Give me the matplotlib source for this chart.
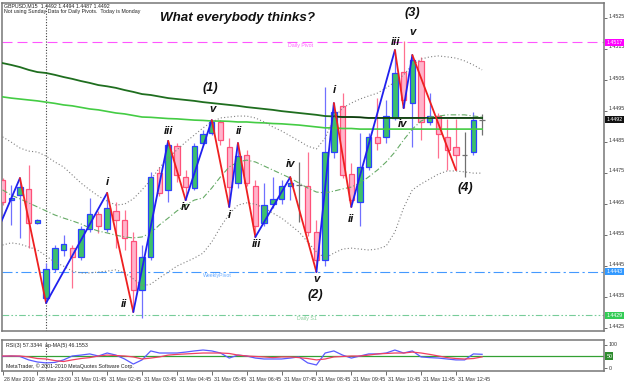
import matplotlib
matplotlib.use("Agg")
import matplotlib.pyplot as plt
import matplotlib.transforms as mtransforms
import numpy as np

# ---------------- data ----------------
open_ = [1.44726, 1.44661, 1.44677, 1.44697, 1.44587, 1.44345, 1.44439, 1.44500, 1.44506, 1.44477,
         1.44568, 1.44616, 1.44568, 1.44626, 1.44597, 1.44529, 1.44371, 1.44477, 1.44748, 1.44694,
         1.44835, 1.44735, 1.44700, 1.44845, 1.44877, 1.44913, 1.44832, 1.44716, 1.44806, 1.44706,
         1.44587, 1.44648, 1.44665, 1.44706, 1.44710, 1.44706, 1.44558, 1.44468, 1.44816, 1.44965,
         1.44745, 1.44655, 1.44768, 1.44865, 1.44865, 1.44926, 1.45074, 1.44974, 1.45110, 1.44913,
         1.44932, 1.44865, 1.44832, 1.44806, 1.44816, 1.44920]
high_ = [1.44732, 1.44710, 1.44732, 1.44774, 1.44600, 1.44458, 1.44516, 1.44548, 1.44516, 1.44577,
         1.44668, 1.44626, 1.44684, 1.44655, 1.44629, 1.44558, 1.44516, 1.44752, 1.44768, 1.44852,
         1.44845, 1.44758, 1.44845, 1.44887, 1.44919, 1.44919, 1.44861, 1.44845, 1.44823, 1.44726,
         1.44716, 1.44735, 1.44726, 1.44735, 1.44784, 1.44816, 1.44597, 1.45026, 1.44974, 1.45006,
         1.44781, 1.44877, 1.44877, 1.44990, 1.44984, 1.45145, 1.45174, 1.45129, 1.45123, 1.45006,
         1.44942, 1.44923, 1.44923, 1.44881, 1.44945, 1.44940]
low_ = [1.44645, 1.44581, 1.44539, 1.44506, 1.44584, 1.44329, 1.44429, 1.44481, 1.44377, 1.44468,
        1.44558, 1.44555, 1.44558, 1.44506, 1.44500, 1.44300, 1.44281, 1.44468, 1.44674, 1.44655,
        1.44719, 1.44661, 1.44694, 1.44839, 1.44871, 1.44839, 1.44639, 1.44700, 1.44706, 1.44542,
        1.44577, 1.44635, 1.44648, 1.44661, 1.44590, 1.44545, 1.44429, 1.44448, 1.44797, 1.44732,
        1.44639, 1.44577, 1.44758, 1.44823, 1.44845, 1.44919, 1.44958, 1.44832, 1.44855, 1.44903,
        1.44797, 1.44758, 1.44758, 1.44735, 1.44806, 1.44870]
close_ = [1.44655, 1.44668, 1.44703, 1.44587, 1.44597, 1.44439, 1.44506, 1.44519, 1.44477, 1.44568,
          1.44616, 1.44577, 1.44635, 1.44597, 1.44539, 1.44371, 1.44477, 1.44735, 1.44684, 1.44839,
          1.44742, 1.44703, 1.44835, 1.44874, 1.44913, 1.44855, 1.44703, 1.44803, 1.44716, 1.44577,
          1.44645, 1.44665, 1.44706, 1.44716, 1.44710, 1.44558, 1.44468, 1.44816, 1.44945, 1.44742,
          1.44661, 1.44768, 1.44865, 1.44845, 1.44932, 1.45071, 1.44984, 1.45113, 1.44913, 1.44932,
          1.44874, 1.44823, 1.44806, 1.44806, 1.44920, 1.44920]

ma_slow = [1.45103, 1.45097, 1.45090, 1.45081, 1.45074, 1.45071, 1.45065, 1.45058, 1.45052, 1.45045,
           1.45039, 1.45032, 1.45028, 1.45023, 1.45016, 1.45010, 1.45003, 1.45000, 1.44995, 1.44990,
           1.44987, 1.44984, 1.44981, 1.44977, 1.44974, 1.44971, 1.44968, 1.44965, 1.44961, 1.44958,
           1.44955, 1.44952, 1.44948, 1.44945, 1.44942, 1.44939, 1.44936, 1.44932, 1.44931, 1.44929,
           1.44929, 1.44928, 1.44926, 1.44926, 1.44926, 1.44926, 1.44926, 1.44926, 1.44926, 1.44926,
           1.44926, 1.44926, 1.44926, 1.44926, 1.44926, 1.44926]
ma_mid = [1.44994, 1.44990, 1.44987, 1.44984, 1.44981, 1.44977, 1.44973, 1.44968, 1.44965, 1.44960,
          1.44955, 1.44952, 1.44947, 1.44942, 1.44939, 1.44934, 1.44929, 1.44928, 1.44926, 1.44924,
          1.44923, 1.44921, 1.44919, 1.44918, 1.44916, 1.44916, 1.44915, 1.44913, 1.44913, 1.44911,
          1.44910, 1.44908, 1.44907, 1.44905, 1.44903, 1.44900, 1.44897, 1.44894, 1.44894, 1.44892,
          1.44892, 1.44890, 1.44890, 1.44890, 1.44890, 1.44890, 1.44890, 1.44890, 1.44890, 1.44890,
          1.44890, 1.44890, 1.44890, 1.44890, 1.44890, 1.44890]
bb_upper = [1.44865, 1.44848, 1.44829, 1.44819, 1.44816, 1.44803, 1.44784, 1.44768, 1.44742, 1.44716,
            1.44694, 1.44674, 1.44658, 1.44645, 1.44648, 1.44665, 1.44694, 1.44726, 1.44765, 1.44797,
            1.44823, 1.44848, 1.44871, 1.44894, 1.44913, 1.44926, 1.44929, 1.44932, 1.44932, 1.44926,
            1.44913, 1.44897, 1.44884, 1.44868, 1.44852, 1.44835, 1.44826, 1.44861, 1.44926, 1.44958,
            1.44974, 1.44987, 1.44997, 1.45006, 1.45023, 1.45042, 1.45065, 1.45097, 1.45116, 1.45123,
            1.45126, 1.45123, 1.45119, 1.45110, 1.45097, 1.45081]
bb_mid = [1.44694, 1.44677, 1.44665, 1.44652, 1.44639, 1.44626, 1.44613, 1.44603, 1.44594, 1.44584,
          1.44571, 1.44561, 1.44555, 1.44548, 1.44542, 1.44539, 1.44542, 1.44555, 1.44581, 1.44603,
          1.44626, 1.44645, 1.44661, 1.44668, 1.44700, 1.44736, 1.44768, 1.44784, 1.44790, 1.44784,
          1.44771, 1.44758, 1.44745, 1.44732, 1.44716, 1.44700, 1.44687, 1.44684, 1.44690, 1.44697,
          1.44703, 1.44716, 1.44736, 1.44758, 1.44784, 1.44816, 1.44855, 1.44890, 1.44916, 1.44929,
          1.44932, 1.44936, 1.44936, 1.44936, 1.44932, 1.44929]
bb_lower = [1.44516, 1.44523, 1.44519, 1.44510, 1.44500, 1.44481, 1.44461, 1.44448, 1.44432, 1.44426,
            1.44426, 1.44429, 1.44432, 1.44436, 1.44426, 1.44407, 1.44384, 1.44390, 1.44410, 1.44429,
            1.44448, 1.44461, 1.44474, 1.44490, 1.44526, 1.44574, 1.44616, 1.44645, 1.44652, 1.44648,
            1.44636, 1.44619, 1.44603, 1.44581, 1.44558, 1.44526, 1.44494, 1.44474, 1.44490, 1.44503,
            1.44506, 1.44503, 1.44500, 1.44503, 1.44513, 1.44558, 1.44636, 1.44694, 1.44713, 1.44729,
            1.44745, 1.44755, 1.44755, 1.44752, 1.44748, 1.44748]

rsi3 = [48, 50, 48, 33, 24, 20, 22, 33, 50, 54, 59, 50, 63, 54, 37, 15, 33, 72, 63, 63,
        63, 67, 72, 76, 72, 63, 41, 54, 50, 41, 37, 37, 37, 41, 46, 20, 11, 63, 72, 54,
        41, 50, 59, 59, 63, 76, 63, 72, 46, 43, 41, 37, 33, 33, 59, 57.3344]
rsi_ma5 = [50, 50, 50, 46, 39, 37, 30, 26, 33, 39, 43, 50, 54, 52, 50, 46, 37, 41, 46, 54,
           57, 59, 61, 63, 63, 63, 61, 54, 50, 48, 46, 43, 46, 46, 43, 39, 33, 37, 46, 48,
           50, 50, 54, 59, 61, 63, 63, 67, 63, 57, 50, 43, 39, 37, 39, 46.1553]

zz_bar = [-0.3, 2, 5, 12, 15, 19, 21, 24, 26, 27, 29, 33, 36, 38, 40, 45, 46, 47, 52]
zz_price = [1.44581, 1.44732, 1.44329, 1.44684, 1.44300, 1.44852, 1.44661, 1.44919, 1.44639,
            1.44845, 1.44542, 1.44735, 1.44429, 1.44974, 1.44639, 1.45145, 1.44958, 1.45129, 1.44758]
wave_text = ["i", "ii", "iii", "iv", "v", "(1)", "i", "ii", "iii", "iv", "v", "(2)",
             "i", "ii", "iii", "iv", "v", "(3)", "(4)"]
wave_vertex = [3, 4, 5, 6, 7, 7, 8, 9, 10, 11, 12, 12, 13, 14, 15, 16, 17, 17, 18]

daily_pivot = 1.4517
weekly_pivot = 1.4443
daily_s1 = 1.4429
last_price = 1.4492
price_ticks = [1.4425, 1.4435, 1.4445, 1.4455, 1.4465, 1.4475, 1.4485, 1.4495, 1.4505, 1.4515, 1.4525]
time_tick_bars = [0, 4, 8, 12, 16, 20, 24, 28, 32, 36, 40, 44, 48, 52]
time_tick_labels = ["28 May 2010", "28 May 23:00", "31 May 01:45", "31 May 02:45", "31 May 03:45",
                    "31 May 04:45", "31 May 05:45", "31 May 06:45", "31 May 07:45", "31 May 08:45",
                    "31 May 09:45", "31 May 10:45", "31 May 11:45", "31 May 12:45"]
separator_bar = 5
rsi_levels = [0, 50, 100]

# ---------------- figure ----------------
W, H = 625, 381
fig = plt.figure(figsize=(6.25, 3.81), dpi=100)
fig.patch.set_facecolor("white")
FONT = "Liberation Sans"
SMALL = 3.8


def rect(x0, y0, x1, y1):
    return [x0 / W, 1 - y1 / H, (x1 - x0) / W, (y1 - y0) / H]


ax = fig.add_axes(rect(2, 3, 604, 331))
axr = fig.add_axes(rect(2, 340, 604, 371))

n = len(open_)
xb = np.arange(n)
o = np.array(open_); hh = np.array(high_); ll = np.array(low_); cc = np.array(close_)
bull = cc > o + 1e-9
bear = cc < o - 1e-9
doji = ~(bull | bear)
BW = 0.62

ax.vlines(xb[bull], ll[bull], hh[bull], color="#7070ff", lw=0.9, zorder=2)
ax.vlines(xb[bear], ll[bear], hh[bear], color="#ff7090", lw=0.9, zorder=2)
ax.vlines(xb[doji], ll[doji], hh[doji], color="#707070", lw=0.9, zorder=2)
ax.hlines(o[doji], xb[doji] - BW / 2, xb[doji] + BW / 2, color="#707070", lw=0.9, zorder=3)
ax.bar(xb[bull], (cc - o)[bull], bottom=o[bull], width=BW, color="#3cc06c",
       edgecolor="#2a40ff", lw=0.9, zorder=3)
ax.bar(xb[bear], (o - cc)[bear], bottom=cc[bear], width=BW, color="#ffb4cb",
       edgecolor="#ff5078", lw=0.9, zorder=3)

# moving averages and bands
ax.plot(xb, ma_slow, color="#1f6e1f", lw=1.3, zorder=4)
ax.plot(xb[38:], ma_slow[38:], color="#103010", lw=0.9, zorder=4)
ax.plot(xb, ma_mid, color="#44cc44", lw=1.2, zorder=4)
ax.plot(xb, bb_upper, color="#808080", lw=0.8, ls=(0, (1, 2)), zorder=4)
ax.plot(xb, bb_lower, color="#808080", lw=0.8, ls=(0, (1, 2)), zorder=4)
ax.plot(xb, bb_mid, color="#66aa66", lw=0.8, ls=(0, (5, 2, 1, 2)), zorder=4)

# zigzag
for i in range(len(zz_bar) - 1):
    col = "#2020ee" if zz_price[i + 1] > zz_price[i] else "#ee2020"
    ax.plot(zz_bar[i:i + 2], zz_price[i:i + 2], color=col, lw=1.3, zorder=5,
            solid_capstyle="round")

# horizontal levels
ax.axhline(daily_pivot, color="#ff55ff", lw=0.8, ls=(0, (9, 4.5)), zorder=1)
ax.axhline(weekly_pivot, color="#4499ff", lw=0.8, ls=(0, (9, 3, 2, 3)), zorder=1)
ax.axhline(daily_s1, color="#77cc99", lw=0.8, ls=(0, (6, 2, 1.5, 2, 1.5, 2)), zorder=1)
ax.text(32.7, daily_pivot, "Daily Pivot", fontsize=SMALL, color="#ff66ff", family=FONT,
        va="top", ha="left", transform=ax.transData + mtransforms.ScaledTranslation(0, -0.01, fig.dpi_scale_trans))
ax.text(23.0, weekly_pivot, "WeeklyPivot", fontsize=SMALL, color="#66aaff", family=FONT,
        va="top", ha="left", transform=ax.transData + mtransforms.ScaledTranslation(0, -0.01, fig.dpi_scale_trans))
ax.text(33.8, daily_s1, "Daily S1", fontsize=SMALL, color="#88cc99", family=FONT,
        va="top", ha="left", transform=ax.transData + mtransforms.ScaledTranslation(0, -0.01, fig.dpi_scale_trans))

# separator
ax.axvline(separator_bar, color="#404040", lw=0.8, ls=(0, (1, 1.5)), zorder=1)
axr.axvline(separator_bar, color="#404040", lw=0.8, ls=(0, (1, 1.5)), zorder=1)

# wave labels
offsets = [(0, 11), (-9, 8), (0, 10), (0, -7), (1, 11), (-1, 32), (0, -8), (1, 12), (1, -7),
           (0, 13), (0, -7), (-1, -23), (0, 13), (0, -12), (1, 8), (-1, -16), (0, 23), (0, 42), (9, -18)]
for txt, vi, (dx, dy) in zip(wave_text, wave_vertex, offsets):
    big = txt.startswith("(")
    ax.annotate(txt, (zz_bar[vi], zz_price[vi]), xytext=(dx * 0.72, dy * 0.72),
                textcoords="offset points", ha="center", va="center",
                fontsize=9.2 if big else 8.2, fontweight="bold", fontstyle="italic",
                family=FONT, color="#111111", zorder=6)

# title and header
fig.text(237.5 / W, 1 - 17.5 / H, "What everybody thinks?", fontsize=9.6, fontweight="bold",
         fontstyle="italic", family=FONT, color="#111111", ha="center", va="center")
fig.text(4 / W, 1 - 5.5 / H, "GBPUSD,M15  1.4492 1.4494 1.4487 1.4492", fontsize=SMALL,
         family=FONT, color="#222222", ha="left", va="center")
fig.text(4 / W, 1 - 11 / H, "Not using Sunday Data for Daily Pivots.  Today is Monday", fontsize=SMALL,
         family=FONT, color="#222222", ha="left", va="center")

# axes setup
x_left = (2 - 2.5) / 8.72
x_right = (604 - 2.5) / 8.72
ax.set_xlim(x_left, x_right)
axr.set_xlim(x_left, x_right)
ax.set_ylim(1.4517 - (331 - 42.3) / 31000, 1.4517 + (42.3 - 3) / 31000)
axr.set_ylim((367.5 - 371) / 0.23, (367.5 - 340) / 0.23)

for a in (ax, axr):
    for s in a.spines.values():
        s.set_color("#777777")
        s.set_linewidth(1.1)

ax.yaxis.tick_right()
ax.set_yticks(price_ticks)
ax.set_yticklabels([f"{p:.4f}" for p in price_ticks])
ax.tick_params(axis="y", labelsize=SMALL, length=2, width=0.6, color="#555555", pad=1.5,
               labelcolor="#333333")
shift = mtransforms.ScaledTranslation(0, 0.02, fig.dpi_scale_trans)
for lab in ax.get_yticklabels():
    lab.set_transform(lab.get_transform() + shift)
    lab.set_family(FONT)
ax.set_xticks([])

# price boxes
trans = mtransforms.blended_transform_factory(ax.transAxes, ax.transData)


def price_box(val, fc, tc="white"):
    ax.text(1.004, val, f"{val:.4f}", transform=trans, fontsize=SMALL, color=tc, family=FONT,
            va="center", ha="left", clip_on=False, zorder=10,
            bbox=dict(boxstyle="square,pad=0.2", fc=fc, ec="none"))


price_box(daily_pivot, "#ff00ff")
price_box(last_price, "#111111")
price_box(weekly_pivot, "#3399ff")
price_box(daily_s1, "#33cc55")

# RSI panel
axr.plot(xb, rsi3, color="#5a5aff", lw=0.9, zorder=3)
axr.plot(xb, rsi_ma5, color="#f04062", lw=0.9, zorder=3)
axr.axhline(rsi_levels[1], color="#33a033", lw=0.9, zorder=2)
axr.yaxis.tick_right()
axr.set_yticks([rsi_levels[0], rsi_levels[2]])
axr.set_yticklabels([str(rsi_levels[0]), str(rsi_levels[2])])
axr.tick_params(axis="y", labelsize=SMALL, length=2, width=0.6, color="#555555", pad=1.5,
                labelcolor="#333333")
for lab in axr.get_yticklabels():
    lab.set_family(FONT)
transr = mtransforms.blended_transform_factory(axr.transAxes, axr.transData)
axr.text(1.004, rsi_levels[1], str(rsi_levels[1]), transform=transr, fontsize=SMALL, color="white",
         family=FONT, va="center", ha="left", clip_on=False,
         bbox=dict(boxstyle="square,pad=0.2", fc="#2e8b2e", ec="none"))
axr.text(4 / 602, 1 - 6 / 31, f"RSI(3) {rsi3[-1]:.4f}  ap-MA(5) {rsi_ma5[-1]:.4f}", transform=axr.transAxes,
         fontsize=SMALL, family=FONT, color="#222222", ha="left", va="center")
axr.text(4 / 602, 1 - 26 / 31, "MetaTrader, \u00a9 2001-2010 MetaQuotes Software Corp.", transform=axr.transAxes,
         fontsize=SMALL, family=FONT, color="#222222", ha="left", va="center")

axr.set_xticks(time_tick_bars)
axr.set_xticklabels(time_tick_labels)
axr.tick_params(axis="x", labelsize=SMALL, length=3, width=0.6, color="#555555", pad=1.5,
                labelcolor="#333333")
xshift = mtransforms.ScaledTranslation(0.02, 0, fig.dpi_scale_trans)
for lab in axr.get_xticklabels():
    lab.set_horizontalalignment("left")
    lab.set_transform(lab.get_transform() + xshift)
    lab.set_family(FONT)

fig.savefig("out.png", dpi=100, facecolor="white")
